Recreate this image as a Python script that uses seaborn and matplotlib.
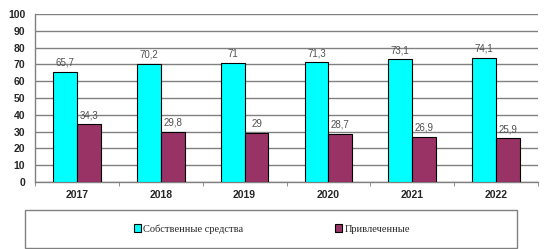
import numpy as np
import pandas as pd
import seaborn as sns
import matplotlib.pyplot as plt
from matplotlib.patches import Rectangle
from matplotlib.ticker import FixedLocator

years = ["2017", "2018", "2019", "2020", "2021", "2022"]
own = [65.7, 70.2, 71, 71.3, 73.1, 74.1]
borrowed = [34.3, 29.8, 29, 28.7, 26.9, 25.9]
series = ["Собственные средства", "Привлеченные"]
colors = ["#00FFFF", "#993366"]

df = pd.DataFrame({
    "year": years * 2,
    "value": own + borrowed,
    "series": np.repeat(series, len(years)),
})

sns.set_style("white")
plt.rcParams["font.family"] = ["Liberation Sans", "DejaVu Sans"]

fig = plt.figure(figsize=(5.46, 2.49), dpi=100)
ax = fig.add_axes([35 / 546, 1 - 182 / 249, 503 / 546, 168 / 249])

sns.barplot(data=df, x="year", y="value", hue="series", palette=colors,
            saturation=1, width=0.57, edgecolor="black", linewidth=0.8,
            ax=ax, legend=False, zorder=3)

for cont in ax.containers:
    labs = [f"{b.get_height():g}".replace(".", ",") for b in cont]
    ax.bar_label(cont, labels=labs, padding=3, fontsize=7, color="#505050")

ax.set_ylim(0, 100)
ax.set_yticks(range(0, 101, 10))
ax.set_xlim(-0.5, 5.5)
ax.set_xlabel("")
ax.set_ylabel("")
ax.yaxis.grid(True, color="#808080", linewidth=1, zorder=0)
ax.set_axisbelow(True)
for s in ["top", "right"]:
    ax.spines[s].set_visible(False)
for s in ["left", "bottom"]:
    ax.spines[s].set_color("#808080")
    ax.spines[s].set_linewidth(1)

ax.tick_params(axis="y", length=3, color="#808080", labelsize=7.5, pad=4)
ax.tick_params(axis="x", which="major", length=0, labelsize=7.5, pad=6)
ax.xaxis.set_minor_locator(FixedLocator(np.arange(-0.5, 6, 1)))
ax.tick_params(axis="x", which="minor", length=3, color="#808080", bottom=True)
for t in ax.get_xticklabels() + ax.get_yticklabels():
    t.set_fontweight("bold")

# legend box
fig.patches.append(Rectangle((25 / 546, 1 / 249), 492 / 546, 38 / 249,
                             transform=fig.transFigure, fill=False,
                             edgecolor="#808080", linewidth=1))
handles = [Rectangle((0, 0), 1, 1, facecolor=c, edgecolor="black", linewidth=0.8)
           for c in colors]
fig.legend(handles, series, loc="center", bbox_to_anchor=(272 / 546, 20 / 249),
           ncol=2, frameon=False, handlelength=0.7, handleheight=0.7,
           handletextpad=0.2, columnspacing=8.8,
           prop={"family": "Liberation Serif", "size": 7.5})

fig.savefig("out.png", dpi=100)
